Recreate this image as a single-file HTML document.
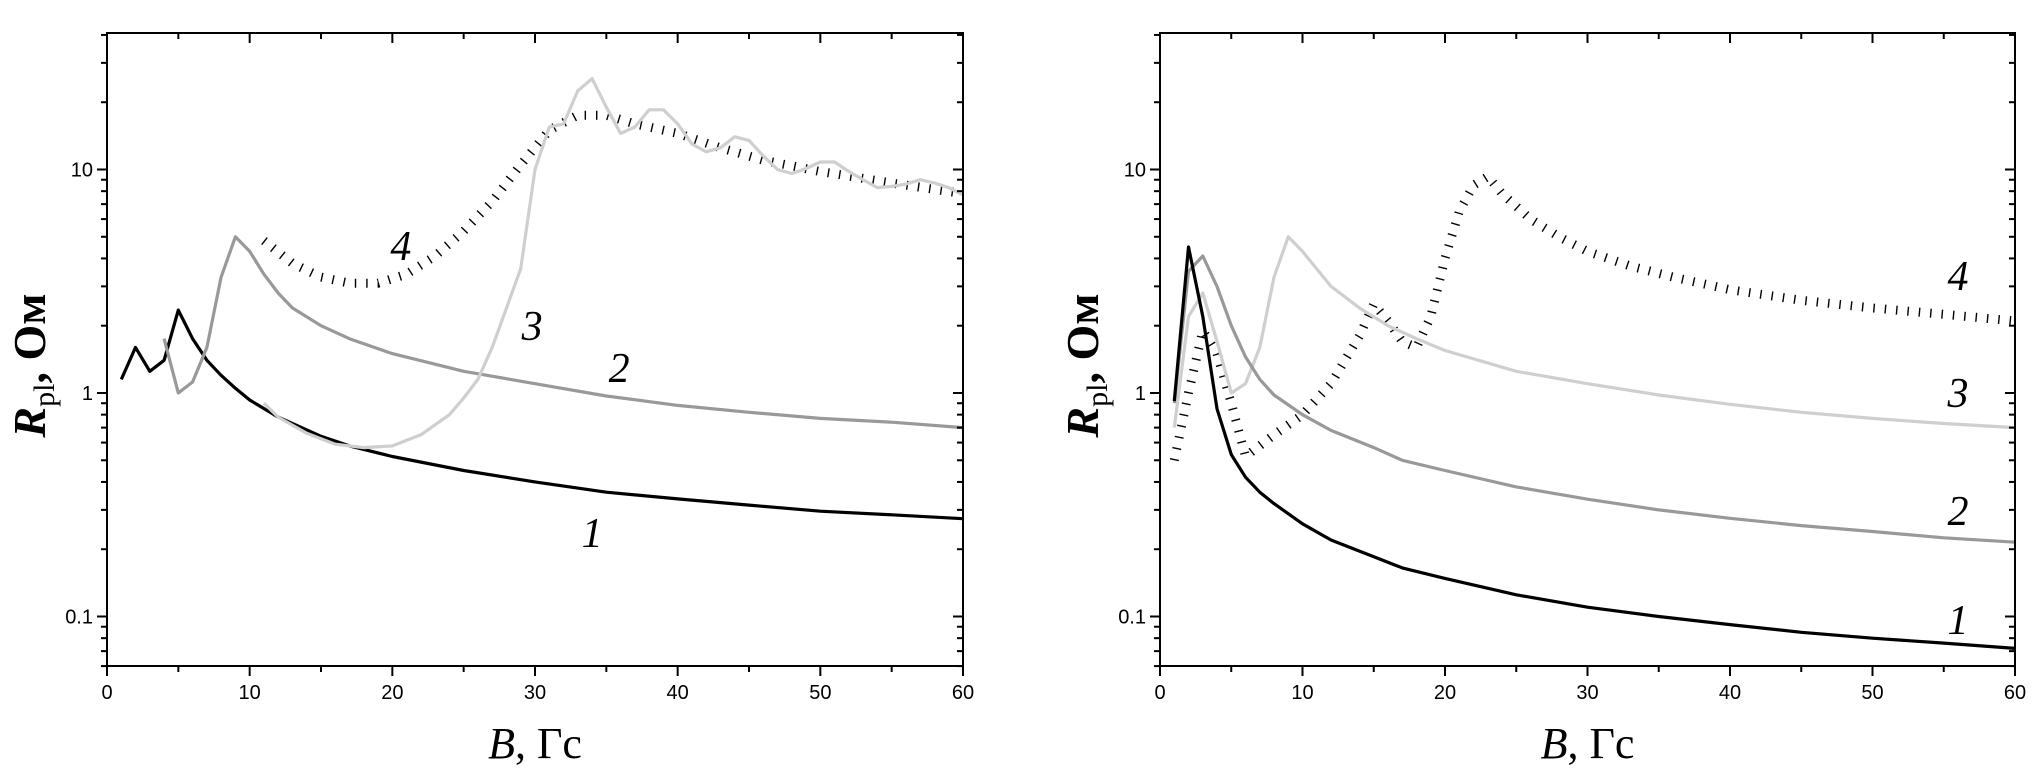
<!DOCTYPE html>
<html><head><meta charset="utf-8"><style>
html,body{margin:0;padding:0;background:#fff;}
svg{display:block;}
</style></head><body>
<svg id="chart" width="2043" height="782" viewBox="0 0 2043 782" xmlns="http://www.w3.org/2000/svg"></svg>
<script>
// ---- data: left panel ----
const xTicks = [0,10,20,30,40,50,60];
const yTickLabels = ["0.1","1","10"];
const yTickValues = [0.1,1,10];
const L1x=[1,2,3,4,5,6,7,8,9,10,12,15,17,20,25,30,35,40,45,50,55,60];
const L1y=[1.15,1.6,1.25,1.4,2.35,1.75,1.4,1.2,1.05,0.93,0.78,0.64,0.58,0.52,0.45,0.40,0.36,0.336,0.315,0.296,0.285,0.274];
const L2x=[4,5,6,7,8,9,10,11,12,13,15,17,20,25,30,35,40,45,50,55,60];
const L2y=[1.75,1.0,1.12,1.6,3.3,5.0,4.3,3.4,2.8,2.4,2.0,1.75,1.5,1.25,1.1,0.97,0.88,0.82,0.77,0.74,0.70];
const L3x=[11,12,14,16,18,20,22,24,25,26,27,28,29,30,31,32,33,34,35,36,37,38,39,40,41,42,43,44,45,46,47,48,49,50,51,52,53,54,55,56,57,58,59,60];
const L3y=[0.9,0.78,0.66,0.59,0.57,0.58,0.65,0.8,0.95,1.15,1.6,2.4,3.6,10,15.5,16,22.5,25.5,19,14.5,15.5,18.5,18.5,16,13,12,12.5,14,13.5,11.5,10,9.6,10.1,10.8,10.8,9.8,9,8.3,8.4,8.6,9.0,8.7,8.3,7.7];
const L4x=[11,13,15,17,19,21,23,25,27,29,31,33,35,37,40,43,46,50,55,60];
const L4y=[4.8,3.8,3.3,3.1,3.1,3.4,4.1,5.3,7.2,10.5,15,17.5,17.5,16,14.5,12.5,11,9.8,8.7,7.8];
// ---- data: right panel ----
const R1x=[1,2,3,4,5,6,7,8,10,12,15,17,20,25,30,35,40,45,50,55,60];
const R1y=[0.92,4.5,2.2,0.85,0.53,0.42,0.36,0.32,0.26,0.22,0.185,0.165,0.148,0.125,0.11,0.1,0.092,0.085,0.08,0.076,0.072];
const R2x=[1,2,3,4,5,6,7,8,10,12,15,17,20,25,30,35,40,45,50,55,60];
const R2y=[0.9,3.5,4.1,3.0,2.0,1.45,1.15,0.98,0.8,0.68,0.57,0.5,0.45,0.38,0.335,0.3,0.275,0.255,0.24,0.225,0.215];
const R3x=[1,2,3,4,5,6,7,8,9,10,12,14,16,18,20,25,30,35,40,45,50,55,60];
const R3y=[0.7,2.2,2.8,1.7,1.0,1.1,1.6,3.3,5.0,4.3,3.0,2.4,2.0,1.75,1.55,1.25,1.1,0.98,0.89,0.82,0.77,0.73,0.70];
const R4x=[1,2,3,4,5,6,8,10,12,14,15,16,17,18,19,20,21,22,23,24,26,28,30,33,36,40,45,50,55,60];
const R4y=[0.5,1.0,1.9,1.5,0.9,0.52,0.65,0.8,1.1,1.8,2.5,2.1,1.7,1.6,2.2,4,6.5,8.5,9.3,7.8,6,5,4.3,3.7,3.3,2.9,2.6,2.4,2.25,2.1];

const NS="http://www.w3.org/2000/svg";
const svg=document.getElementById('chart');
function mk(tag,attrs,parent){const e=document.createElementNS(NS,tag);for(const k in attrs)e.setAttribute(k,attrs[k]);(parent||svg).appendChild(e);return e;}

const TOP=33,BOT=666,Y1=393,DEC=223.5;
function yS(v){return Y1-DEC*Math.log10(v);}

function panel(name,left,right,series,labels){
  const g=mk('g',{});
  
  
  const xS=v=>left+(right-left)*v/60;
  series.forEach(s=>{
    const d=s.x.map((x,i)=>(i?'L':'M')+xS(x).toFixed(1)+' '+yS(s.y[i]).toFixed(1)).join(' ');
    const p=mk('path',{d:d,fill:'none',stroke:s.c,'stroke-width':s.hatch?9:3.2,'stroke-linejoin':'round','stroke-dasharray':s.hatch?'1.4 10':'none'},g);
    
    
  });
  const f=mk('rect',{x:left,y:TOP,width:right-left,height:BOT-TOP,fill:'none',stroke:'#000','stroke-width':2},g);
  
  
  for(let v=0;v<=60;v+=5){
    const x=xS(v),maj=v%10===0,len=maj?10:6;
    mk('line',{x1:x,y1:BOT,x2:x,y2:BOT+len,stroke:'#000','stroke-width':2},g);
    mk('line',{x1:x,y1:TOP,x2:x,y2:TOP+len,stroke:'#000','stroke-width':2},g);
  }
  xTicks.forEach(v=>{
    const t=mk('text',{x:xS(v),y:BOT+33,'text-anchor':'middle','font-family':'Liberation Sans, sans-serif','font-size':20},g);
    t.textContent=String(v);
    
    
  });
  for(let e=-2;e<=1;e++){
    for(let m=1;m<=9;m++){
      const v=m*Math.pow(10,e);const y=yS(v);
      if(y<TOP-0.5||y>BOT+0.5)continue;
      const len=m===1?10:6;
      mk('line',{x1:left,y1:y,x2:left-len,y2:y,stroke:'#000','stroke-width':2},g);
      mk('line',{x1:right,y1:y,x2:right-len,y2:y,stroke:'#000','stroke-width':2},g);
    }
  }
  yTickValues.forEach((v,i)=>{
    const t=mk('text',{x:left-14,y:yS(v)+7,'text-anchor':'end','font-family':'Liberation Sans, sans-serif','font-size':20},g);
    t.textContent=yTickLabels[i];
    
    
  });
  labels.forEach(l=>{
    const t=mk('text',{x:xS(l.x),y:l.y,'text-anchor':'middle','font-family':'Liberation Serif, serif','font-style':'italic','font-size':42},g);
    t.textContent=l.t;
    
    
  });
  const cx=(left+right)/2;
  const xt=mk('text',{x:cx,y:758,'text-anchor':'middle','font-family':'Liberation Serif, serif','font-size':44},g);
  xt.innerHTML='<tspan font-style="italic">B</tspan>, Гс';
  
  
  const ty=(TOP+BOT)/2+16, tx=left-62;
  const yt=mk('text',{x:tx,y:ty,'text-anchor':'middle','font-family':'Liberation Serif, serif','font-size':46,'font-weight':'bold',transform:'rotate(-90 '+tx+' '+ty+')'},g);
  yt.innerHTML='<tspan font-style="italic">R</tspan><tspan font-size="30" font-weight="normal" dy="9">pl</tspan><tspan dy="-9">, Ом</tspan>';
  
  
}

panel('left-panel',107,963,[
  {x:L4x,y:L4y,c:'#000',hatch:true,n:'curve-4'},
  {x:L1x,y:L1y,c:'#000',n:'curve-1'},
  {x:L2x,y:L2y,c:'#999',n:'curve-2'},
  {x:L3x,y:L3y,c:'#cfcfcf',n:'curve-3'}
],[{t:'4',x:20.6,y:260},{t:'3',x:29.8,y:340},{t:'2',x:35.9,y:382},{t:'1',x:34,y:547}]);

panel('right-panel',1160,2015,[
  {x:R4x,y:R4y,c:'#000',hatch:true,n:'curve-4'},
  {x:R3x,y:R3y,c:'#cfcfcf',n:'curve-3'},
  {x:R2x,y:R2y,c:'#999',n:'curve-2'},
  {x:R1x,y:R1y,c:'#000',n:'curve-1'}
],[{t:'4',x:56,y:290},{t:'3',x:56,y:407},{t:'2',x:56,y:525},{t:'1',x:56,y:634}]);
</script>
</body></html>
